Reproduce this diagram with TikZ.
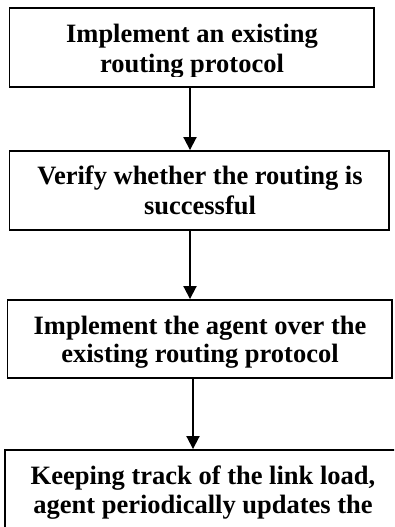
\documentclass[tikz,border=0pt]{standalone}
\usepackage{fontspec}
\setmainfont{Liberation Serif}
\usetikzlibrary{arrows.meta}
\tikzset{
  box/.style={draw=black, line width=1.9pt, rectangle, inner sep=0pt, fill=none},
  txt/.style={font=\bfseries\fontsize{26.5}{30}\selectfont, inner sep=0pt, anchor=base},
  arr/.style={draw=black, line width=1.9pt, -{Triangle[width=13pt,length=13pt]}}
}
\begin{document}
\begin{tikzpicture}[x=1pt, y=-1pt]
  \clip (0,0) rectangle (394,527);
  \useasboundingbox (0,0) rectangle (394,527);
  % boxes
  \node[box, minimum width=364.5pt, minimum height=78.5pt] (b1) at (191.75,47.5) {};
  \node[box, minimum width=379.5pt, minimum height=79pt] (b2) at (199.25,190.5) {};
  \node[box, minimum width=384.5pt, minimum height=78pt] (b3) at (199.75,339) {};
  \node[box, minimum width=396pt, minimum height=140pt] (b4) at (203,520) {};
  % texts
  \begin{scope}
    \clip (0,0) rectangle (394,76);
    \node[txt] (t1a) at (192,42) {Implement an existing};
    \node[txt] (t1b) at (192,72) {routing protocol};
  \end{scope}
  \node[txt] (t2a) at (200,184.5) {Verify whether the routing is};
  \node[txt] (t2b) at (200,214) {successful};
  \begin{scope}
    \clip (0,0) rectangle (394,367);
    \node[txt] (t3a) at (200,334) {Implement the agent over the};
    \node[txt] (t3b) at (200,362.5) {existing routing protocol};
  \end{scope}
  \begin{scope}
    \clip (0,0) rectangle (394,518);
    \node[txt] (t4a) at (203,484) {Keeping track of the link load,};
    \node[txt] (t4b) at (203,513) {agent periodically updates the};
  \end{scope}
  % connectors
  \coordinate (c1) at (190,0);
  \coordinate (c3) at (193,0);
  \draw[arr] (b1.south -| c1) -- (b2.north -| c1);
  \draw[arr] (b2.south -| c1) -- (b3.north -| c1);
  \draw[arr] (b3.south -| c3) -- (b4.north -| c3);
\end{tikzpicture}
\end{document}
